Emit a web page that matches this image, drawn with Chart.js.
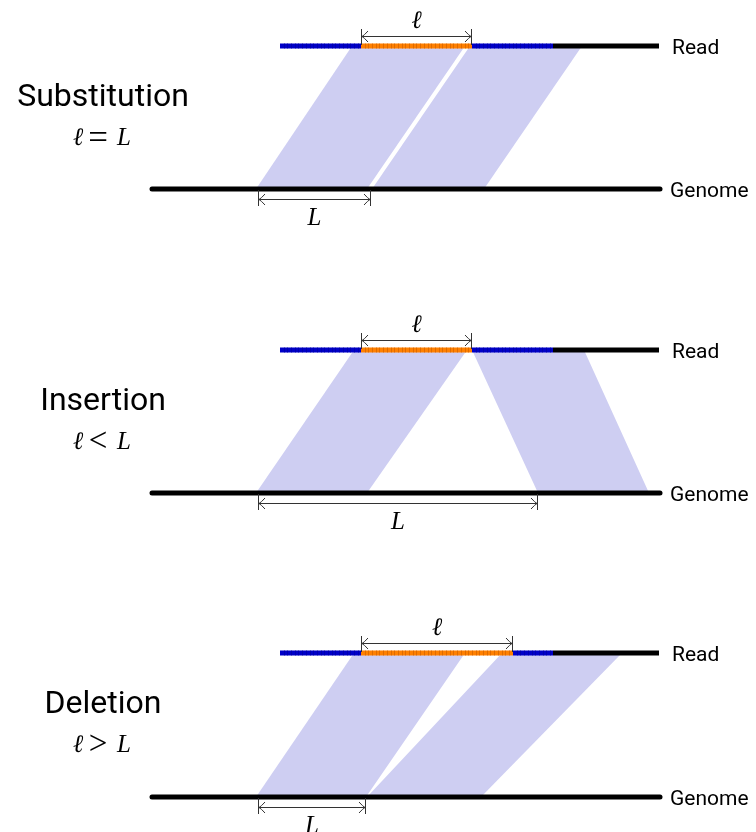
<!DOCTYPE html>
<html>
<head>
<meta charset="utf-8">
<script src="https://cdn.jsdelivr.net/npm/chart.js@4.4.1/dist/chart.umd.min.js"></script>
<style>
  html, body { margin: 0; padding: 0; background: #fff; }
  canvas { display: block; }
</style>
</head>
<body>
<canvas id="diagram" width="756" height="832"></canvas>
<script>
// three cases, one per row
const panelNames = ['Substitution', 'Insertion', 'Deletion'];
const panelOperators = ['=', '<', '>'];
const readRows = [46, 350, 653];
const genomeRows = [189, 493, 797];

// read: blue | orange (the event) | blue | black (unaligned tail)
const readStart = [280, 280, 280];
const eventStart = [361, 361, 361];
const eventEnd = [472, 472, 513];
const blueEnd = [553, 553, 553];
const readEnd = [659, 659, 659];
const genomeSpan = [152, 660];

// aligned blocks: [read left, read right, genome left, genome right]
const leftBlocks = [[352, 465, 256, 367], [354, 467, 256, 367], [354, 465, 256, 366]];
const rightBlocks = [[470, 582, 372, 484], [472, 584, 538, 649], [502, 622, 367, 481]];

// dimension arrows
const readDistance = [[361, 472], [361, 472], [361, 513]];
const genomeDistance = [[258, 371], [258, 538], [258, 366]];

const BLUE = '#0000c8', ORANGE = '#ff8000', BAND = 'rgb(206,206,242)';

const datasets = [];
function seg(x0, x1, y, color, cap) {
  datasets.push({
    data: [{x: x0, y: y}, {x: x1, y: y}],
    borderColor: color, borderWidth: 5, borderCapStyle: cap || 'butt',
    pointRadius: 0, fill: false, order: 1
  });
}
function block(b, yTop, yBot) {
  datasets.push({
    data: [{x: b[0], y: yTop}, {x: b[1], y: yTop}, {x: b[3], y: yBot}, {x: b[2], y: yBot}, {x: b[0], y: yTop}],
    borderWidth: 0, borderColor: 'rgba(0,0,0,0)', backgroundColor: BAND,
    pointRadius: 0, fill: 'shape', tension: 0, order: 10
  });
}

for (let i = 0; i < 3; i++) {
  block(leftBlocks[i], readRows[i], genomeRows[i]);
  block(rightBlocks[i], readRows[i], genomeRows[i]);
  seg(genomeSpan[0], genomeSpan[1], genomeRows[i], '#000', 'round');
  seg(readStart[i], eventStart[i], readRows[i], BLUE);
  seg(eventStart[i], eventEnd[i], readRows[i], ORANGE);
  seg(eventEnd[i], blueEnd[i], readRows[i], BLUE);
  seg(blueEnd[i], readEnd[i], readRows[i], '#000');
}

const annotations = {
  id: 'annotations',
  afterDatasetsDraw(chart) {
    const c = chart.ctx, sx = chart.scales.x, sy = chart.scales.y;
    const X = v => sx.getPixelForValue(v), Y = v => sy.getPixelForValue(v);
    c.save();

    // little cell marks on the coloured parts of the read
    function cells(x0, x1, y, color) {
      c.strokeStyle = color; c.lineWidth = 0.7;
      for (let x = X(x0) + 3.7; x < X(x1) - 1; x += 3.7) {
        c.beginPath(); c.moveTo(Math.round(x) + 0.5, Y(y) - 2.5); c.lineTo(Math.round(x) + 0.5, Y(y) + 2.5); c.stroke();
      }
    }
    function arrow(x0, x1, y, t0, t1) {
      c.strokeStyle = '#333'; c.lineWidth = 1;
      c.beginPath();
      c.moveTo(X(x0), Y(y) + 0.5); c.lineTo(X(x1), Y(y) + 0.5);
      c.moveTo(X(x0) + 0.5, Y(t0)); c.lineTo(X(x0) + 0.5, Y(t1));
      c.moveTo(X(x1) - 0.5, Y(t0)); c.lineTo(X(x1) - 0.5, Y(t1));
      c.stroke();
      const yy = Y(y) + 0.5;
      c.beginPath();
      c.moveTo(X(x0) + 7, yy - 5.5); c.quadraticCurveTo(X(x0) + 3, yy - 1, X(x0) + 1, yy);
      c.quadraticCurveTo(X(x0) + 3, yy + 1, X(x0) + 7, yy + 5.5);
      c.moveTo(X(x1) - 7, yy - 5.5); c.quadraticCurveTo(X(x1) - 3, yy - 1, X(x1) - 1, yy);
      c.quadraticCurveTo(X(x1) - 3, yy + 1, X(x1) - 7, yy + 5.5);
      c.stroke();
    }

    const mathFont = 'italic 25px "Liberation Serif"';
    for (let i = 0; i < 3; i++) {
      const r = readRows[i], g = genomeRows[i];
      cells(readStart[i], eventStart[i], r, '#0000a0');
      cells(eventStart[i], eventEnd[i], r, '#d06000');
      cells(eventEnd[i], blueEnd[i], r, '#0000a0');

      arrow(readDistance[i][0], readDistance[i][1], r - 10, r - 17, r - 1);
      arrow(genomeDistance[i][0], genomeDistance[i][1], g + 10, g + 1, g + 17);

      c.fillStyle = '#000';
      c.textAlign = 'center'; c.textBaseline = 'alphabetic';
      c.font = mathFont;
      c.fillText('\u2113', X((readDistance[i][0] + readDistance[i][1]) / 2), Y(r - 18));
      c.fillText('L', X((genomeDistance[i][0] + genomeDistance[i][1]) / 2), Y(g + 36));

      c.font = '32px Roboto';
      c.fillText(panelNames[i], X(103), Y(r + 60));

      // relation between read gap and genome gap
      c.font = mathFont;
      c.fillText('\u2113', X(78), Y(r + 99));
      c.fillText('L', X(124), Y(r + 99));
      if (panelOperators[i] === '=') {
        c.font = '35px "Liberation Serif"';
        c.fillText(panelOperators[i], X(98), Y(r + 103));
      } else {
        c.font = '33px "Liberation Serif"';
        c.fillText(panelOperators[i], X(98), Y(r + 101));
      }

      c.textAlign = 'left';
      c.font = '21px Roboto';
      c.fillText('Read', X(672), Y(r + 8));
      c.fillText('Genome', X(670), Y(g + 8));
    }
    c.restore();
  }
};

new Chart(document.getElementById('diagram').getContext('2d'), {
  type: 'line',
  data: { datasets: datasets },
  options: {
    responsive: false,
    animation: false,
    layout: { padding: 0 },
    plugins: { legend: { display: false }, tooltip: { enabled: false } },
    scales: {
      x: { type: 'linear', min: 0, max: 756, display: false },
      y: { type: 'linear', min: 0, max: 832, reverse: true, display: false }
    }
  },
  plugins: [annotations]
});
</script>
</body>
</html>
